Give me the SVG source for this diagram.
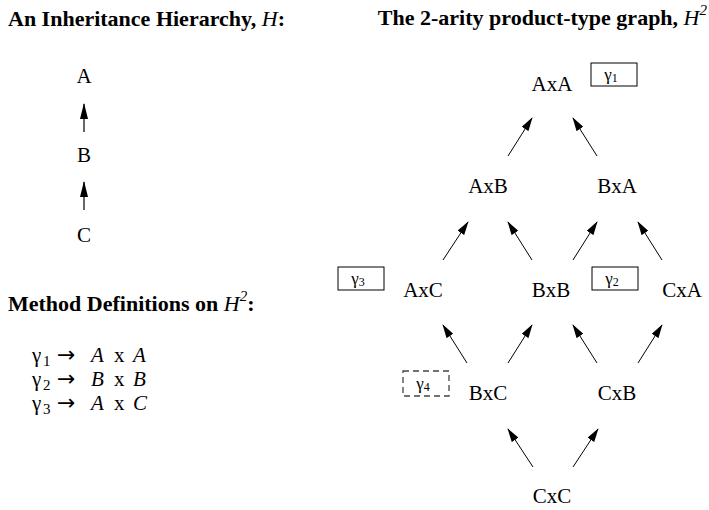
<svg xmlns="http://www.w3.org/2000/svg" width="709" height="510" viewBox="0 0 709 510">
<defs>
<style>
text{font-family:"Liberation Serif","Times New Roman",serif;fill:#000}
.title{font-size:22px;font-weight:bold}
.it{font-style:italic;font-weight:normal}
.node{font-size:21px;text-anchor:middle}
.def{font-size:21px}
.sub{font-size:15px}
.arr{font-family:"DejaVu Sans",sans-serif;font-size:22px}
.bx{font-size:17px;text-anchor:middle}
.box{fill:none;stroke:#000;stroke-width:1}
.dash{fill:none;stroke:#444;stroke-width:1.3;stroke-dasharray:6,4}
.edge{stroke:#000;stroke-width:1;fill:none;marker-end:url(#ah)}
.edge2{stroke:#000;stroke-width:1.2;fill:none;marker-end:url(#ah2)}
</style>
<marker id="ah" markerUnits="userSpaceOnUse" markerWidth="14" markerHeight="8" refX="13" refY="4" orient="auto"><path d="M0,0 L14,4 L0,8 Z" fill="#000"/></marker>
<marker id="ah2" markerUnits="userSpaceOnUse" markerWidth="16" markerHeight="8" refX="15" refY="4" orient="auto"><path d="M0,0 L16,4 L0,8 Z" fill="#000"/></marker>
</defs>

<g id="titles">
<text class="title" x="8" y="26">An Inheritance Hierarchy, <tspan class="it">H</tspan>:</text>
<text class="title" x="707" y="25" text-anchor="end">The 2-arity product-type graph, <tspan class="it">H</tspan><tspan class="it" font-size="15" dy="-10">2</tspan></text>
</g>

<g id="hierarchy">
<g id="h-A"><text class="node" x="84" y="83">A</text></g>
<g id="h-B"><text class="node" x="84" y="162">B</text></g>
<g id="h-C"><text class="node" x="84" y="242">C</text></g>
</g>
<g id="h-connectors">
<line class="edge2" x1="84" y1="132" x2="84" y2="104"/>
<line class="edge2" x1="84" y1="210" x2="84" y2="182"/>
</g>

<g id="methods">
<text class="title" x="8" y="311">Method Definitions on <tspan class="it">H</tspan><tspan class="it" font-size="15" dy="-10">2</tspan><tspan dy="10">:</tspan></text>
<text class="def" y="362"><tspan x="32">γ</tspan><tspan class="sub" x="43" dy="4">1</tspan><tspan class="arr" x="57" dy="-4">→</tspan><tspan x="91" font-style="italic">A</tspan><tspan x="114">x</tspan><tspan x="133" font-style="italic">A</tspan></text>
<text class="def" y="386"><tspan x="32">γ</tspan><tspan class="sub" x="43" dy="4">2</tspan><tspan class="arr" x="57" dy="-4">→</tspan><tspan x="91" font-style="italic">B</tspan><tspan x="114">x</tspan><tspan x="133" font-style="italic">B</tspan></text>
<text class="def" y="410"><tspan x="32">γ</tspan><tspan class="sub" x="43" dy="4">3</tspan><tspan class="arr" x="57" dy="-4">→</tspan><tspan x="91" font-style="italic">A</tspan><tspan x="114">x</tspan><tspan x="133" font-style="italic">C</tspan></text>
</g>

<g id="n-AxA"><text class="node" x="552" y="91">AxA</text></g>
<g id="n-AxB"><text class="node" x="488" y="193">AxB</text></g>
<g id="n-BxA"><text class="node" x="617" y="193">BxA</text></g>
<g id="n-AxC"><text class="node" x="423" y="297">AxC</text></g>
<g id="n-BxB"><text class="node" x="551" y="297">BxB</text></g>
<g id="n-CxA"><text class="node" x="682" y="297">CxA</text></g>
<g id="n-BxC"><text class="node" x="488" y="400">BxC</text></g>
<g id="n-CxB"><text class="node" x="617" y="400">CxB</text></g>
<g id="n-CxC"><text class="node" x="552" y="503">CxC</text></g>

<g id="g1"><rect class="box" x="591" y="63" width="46" height="23"/><text class="bx" x="611" y="80">γ<tspan font-size="12" dy="2">1</tspan></text></g>
<g id="g3"><rect class="box" x="338" y="267" width="46" height="23"/><text class="bx" x="358" y="284">γ<tspan font-size="12" dy="2">3</tspan></text></g>
<g id="g2"><rect class="box" x="592" y="267" width="46" height="23"/><text class="bx" x="612" y="284">γ<tspan font-size="12" dy="2">2</tspan></text></g>
<g id="g4"><rect class="dash" x="403" y="371" width="46" height="25"/><text class="bx" x="423" y="389">γ<tspan font-size="12" dy="2">4</tspan></text></g>

<g id="connectors">
<line class="edge" x1="508" y1="156" x2="532" y2="118"/>
<line class="edge" x1="597" y1="156" x2="573" y2="118"/>
<line class="edge" x1="443" y1="260" x2="468" y2="222"/>
<line class="edge" x1="532" y1="260" x2="508" y2="222"/>
<line class="edge" x1="573" y1="260" x2="597" y2="222"/>
<line class="edge" x1="662" y1="260" x2="638" y2="222"/>
<line class="edge" x1="467" y1="363" x2="443" y2="325"/>
<line class="edge" x1="508" y1="363" x2="532" y2="325"/>
<line class="edge" x1="597" y1="363" x2="573" y2="325"/>
<line class="edge" x1="638" y1="363" x2="662" y2="325"/>
<line class="edge" x1="533" y1="467" x2="508" y2="429"/>
<line class="edge" x1="573" y1="467" x2="598" y2="429"/>
</g>
</svg>
